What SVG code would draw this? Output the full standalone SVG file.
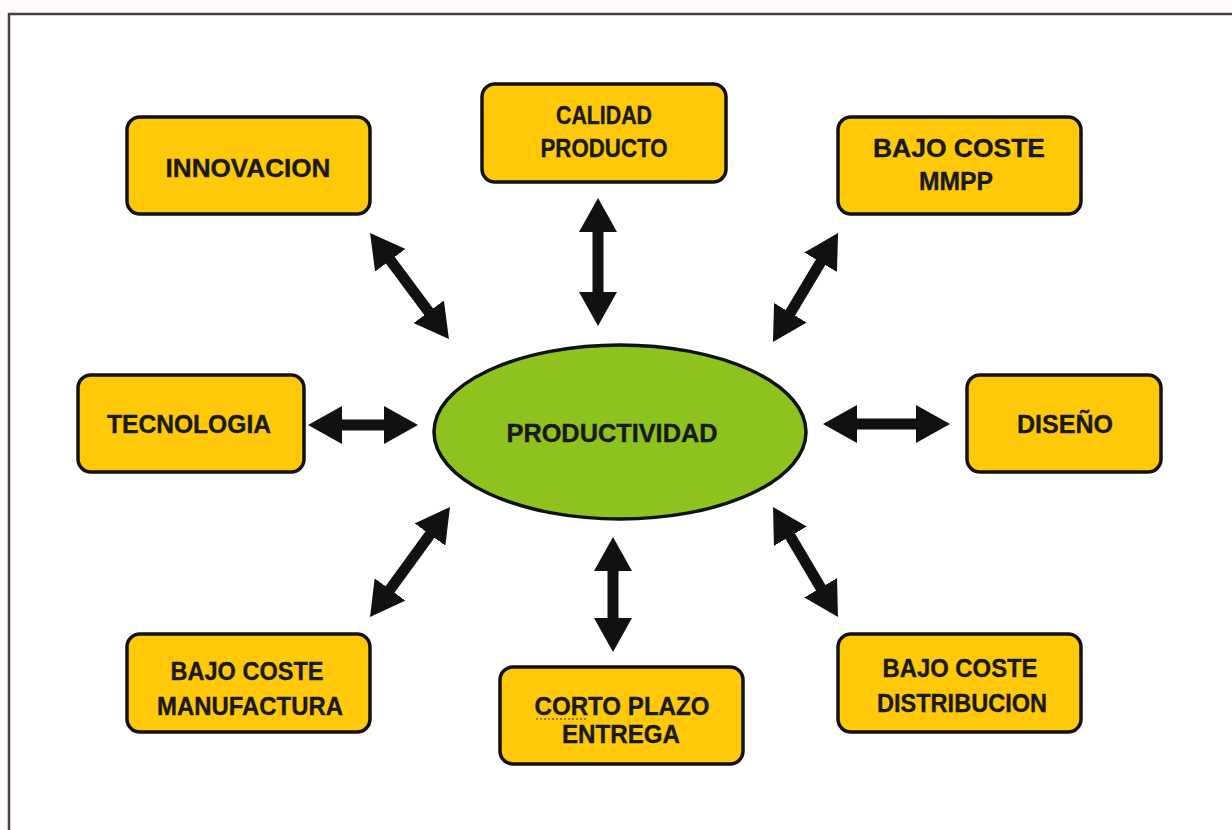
<svg xmlns="http://www.w3.org/2000/svg" width="1232" height="830" viewBox="0 0 1232 830">
<style>
.box{fill:#FFC90A;stroke:#111;stroke-width:3.5}
.ell{fill:#8DC21F;stroke:#111;stroke-width:3.5}
.t{font-family:"Liberation Sans",Arial,sans-serif;font-weight:bold;font-size:26px;fill:#1a1a1a;stroke:#1a1a1a;stroke-width:0.4;text-anchor:middle}
.arr{stroke:#111;stroke-width:11;fill:none}
</style>
<defs>
<marker id="ah" markerUnits="userSpaceOnUse" markerWidth="34" markerHeight="38" refX="14" refY="19" orient="auto-start-reverse" viewBox="0 0 34 38">
<path d="M0,0 L34,19 L0,38 z" fill="#111"/>
</marker>
</defs>
<rect x="0" y="0" width="1232" height="830" fill="#fdfafa"/>
<rect x="9" y="14" width="1250" height="840" fill="#ffffff" stroke="#4a3f40" stroke-width="2.5"/>
<g id="connectors">
<line class="arr" x1="598" y1="218" x2="598" y2="306" marker-start="url(#ah)" marker-end="url(#ah)"/>
<line class="arr" x1="613" y1="557" x2="613" y2="632" marker-start="url(#ah)" marker-end="url(#ah)"/>
<line class="arr" x1="328" y1="425" x2="398" y2="425" marker-start="url(#ah)" marker-end="url(#ah)"/>
<line class="arr" x1="843" y1="424" x2="930" y2="424" marker-start="url(#ah)" marker-end="url(#ah)"/>
<line class="arr" x1="382" y1="249" x2="437" y2="323" marker-start="url(#ah)" marker-end="url(#ah)"/>
<line class="arr" x1="827.8" y1="250.2" x2="783.2" y2="324.8" marker-start="url(#ah)" marker-end="url(#ah)"/>
<line class="arr" x1="438.2" y1="523.2" x2="381.8" y2="600.8" marker-start="url(#ah)" marker-end="url(#ah)"/>
<line class="arr" x1="783.2" y1="524.2" x2="827.8" y2="599.8" marker-start="url(#ah)" marker-end="url(#ah)"/>
</g>
<g id="productividad">
<ellipse class="ell" cx="620" cy="432" rx="186" ry="87"/>
<text class="t" x="612" y="442" textLength="211" lengthAdjust="spacingAndGlyphs">PRODUCTIVIDAD</text>
</g>
<g id="innovacion">
<rect class="box" x="127" y="117" width="243" height="97" rx="13"/>
<text class="t" x="248" y="177" textLength="165" lengthAdjust="spacingAndGlyphs">INNOVACION</text>
</g>
<g id="calidad">
<rect class="box" x="482" y="84" width="244" height="98" rx="13"/>
<text class="t" x="604" y="124" textLength="96" lengthAdjust="spacingAndGlyphs">CALIDAD</text>
<text class="t" x="604" y="157" textLength="127" lengthAdjust="spacingAndGlyphs">PRODUCTO</text>
</g>
<g id="mmpp">
<rect class="box" x="838" y="117" width="243" height="97" rx="13"/>
<text class="t" x="959" y="157" textLength="172" lengthAdjust="spacingAndGlyphs">BAJO COSTE</text>
<text class="t" x="956" y="190" textLength="74" lengthAdjust="spacingAndGlyphs">MMPP</text>
</g>
<g id="tecnologia">
<rect class="box" x="78" y="375" width="226" height="97" rx="13"/>
<text class="t" x="189" y="433" textLength="164" lengthAdjust="spacingAndGlyphs">TECNOLOGIA</text>
</g>
<g id="diseno">
<rect class="box" x="967" y="375" width="194" height="97" rx="13"/>
<text class="t" x="1065" y="433" textLength="96" lengthAdjust="spacingAndGlyphs">DISEÑO</text>
</g>
<g id="manufactura">
<rect class="box" x="127" y="634" width="243" height="98" rx="13"/>
<text class="t" x="247" y="680" textLength="153" lengthAdjust="spacingAndGlyphs">BAJO COSTE</text>
<text class="t" x="250" y="715" textLength="186" lengthAdjust="spacingAndGlyphs">MANUFACTURA</text>
</g>
<g id="corto">
<rect class="box" x="500" y="667" width="243" height="97" rx="13"/>
<text class="t" x="622" y="715" textLength="175" lengthAdjust="spacingAndGlyphs">CORTO PLAZO</text>
<line x1="536" y1="719" x2="586" y2="719" stroke="#7a6a20" stroke-width="1.5" stroke-dasharray="2,2"/>
<text class="t" x="621" y="743" textLength="118" lengthAdjust="spacingAndGlyphs">ENTREGA</text>
</g>
<g id="distribucion">
<rect class="box" x="838" y="634" width="243" height="98" rx="13"/>
<text class="t" x="960" y="677" textLength="155" lengthAdjust="spacingAndGlyphs">BAJO COSTE</text>
<text class="t" x="962" y="712" textLength="170" lengthAdjust="spacingAndGlyphs">DISTRIBUCION</text>
</g>
</svg>
